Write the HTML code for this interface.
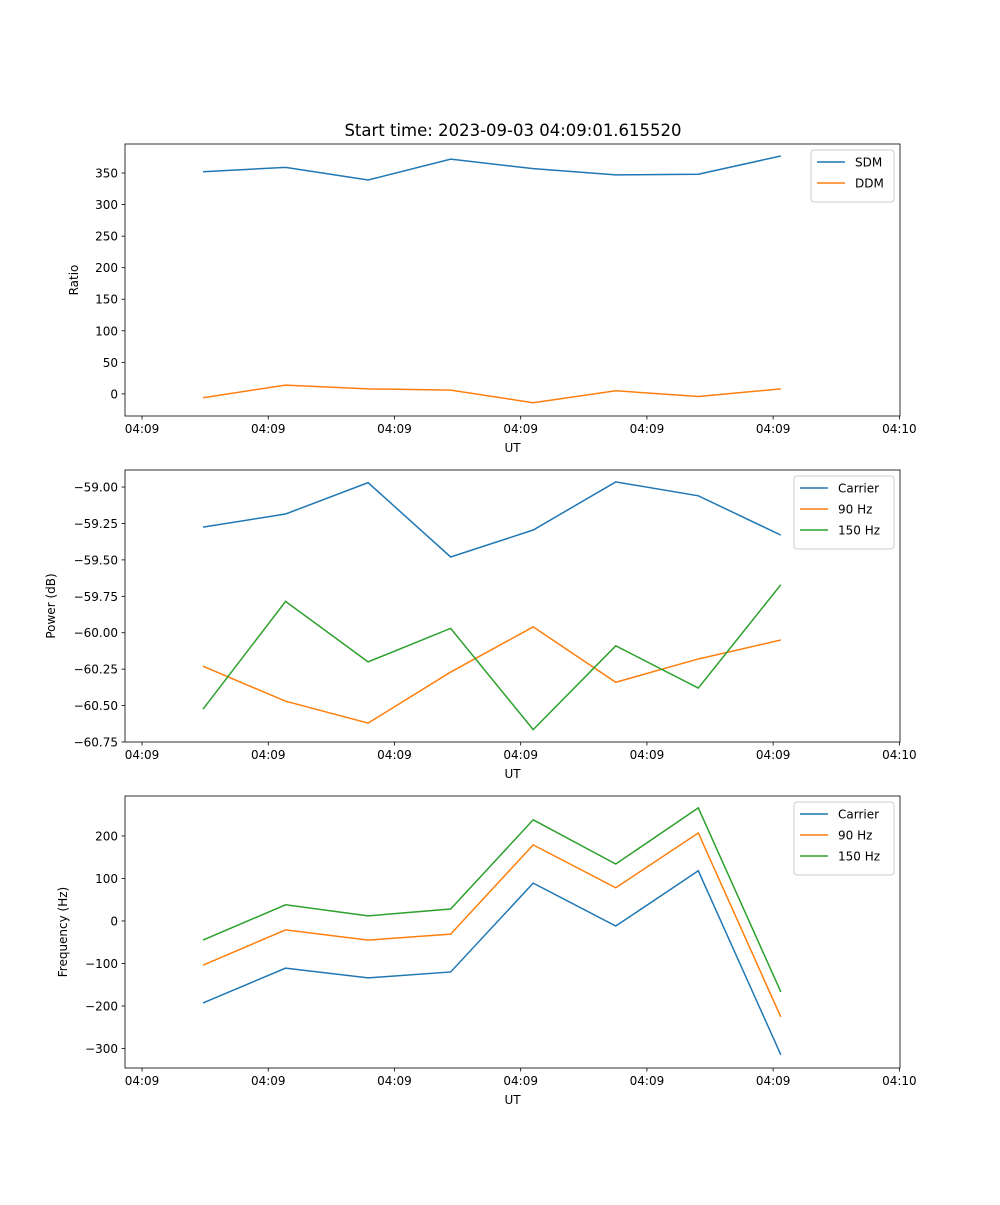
<!DOCTYPE html>
<html><head><meta charset="utf-8"><style>
body{margin:0;background:#fff;font-family:"Liberation Sans","DejaVu Sans",sans-serif}
svg text{font-family:"DejaVu Sans","Liberation Sans",sans-serif}
</style></head><body>
<svg id="fig" width="1000" height="1200" xmlns="http://www.w3.org/2000/svg"></svg>
<script>
const times = [4.83, 11.37, 17.91, 24.45, 30.99, 37.53, 44.07, 50.61];
const xTickVals = [0, 10, 20, 30, 40, 50, 60];
const xTickLabels = ["04:09","04:09","04:09","04:09","04:09","04:09","04:10"];
const sdm = [352, 359, 339, 372, 357, 347, 348, 377];
const ddm = [-6, 14, 8, 6, -14, 5, -4, 8];
const pCarrier = [-59.275, -59.185, -58.97, -59.48, -59.295, -58.965, -59.06, -59.33];
const p90 = [-60.23, -60.47, -60.62, -60.27, -59.96, -60.34, -60.18, -60.05];
const p150 = [-60.525, -59.785, -60.2, -59.97, -60.665, -60.09, -60.38, -59.67];
const fCarrier = [-193, -111, -134, -120, 89, -12, 118, -315];
const f90 = [-104, -21, -45, -31, 179, 78, 207, -226];
const f150 = [-45, 38, 12, 28, 238, 134, 266, -167];
const ticks1 = [0, 50, 100, 150, 200, 250, 300, 350];
const ticks2 = [-60.75, -60.5, -60.25, -60.0, -59.75, -59.5, -59.25, -59.0];
const ticks3 = [-300, -200, -100, 0, 100, 200];

const svg = document.getElementById('fig');
const NS = 'http://www.w3.org/2000/svg';
function mk(tag, attrs, parent){const e=document.createElementNS(NS,tag);for(const k in attrs)e.setAttribute(k,attrs[k]);(parent||svg).appendChild(e);return e;}
const L=125,R=900,X0=-1.35,X1=60.05;
function xs(t){return L+(t-X0)/(X1-X0)*(R-L);}
const C=['#1f77b4','#ff7f0e','#2ca02c'];

function panel(name, top, bottom, y0, y1, yticks, fmt, ylabel, ylOff, series, labels, legendW){
  const g=mk('g',{});
  
  
  const ys=v=>bottom-(v-y0)/(y1-y0)*(bottom-top);
  series.forEach((s,i)=>{
    const pl=mk('polyline',{points:s.map((v,j)=>xs(times[j])+','+ys(v)).join(' '),fill:'none',stroke:C[i],'stroke-width':1.5},g);
    
    
  });
  mk('rect',{x:L,y:top,width:R-L,height:bottom-top,fill:'none',stroke:'#000','stroke-width':0.8},g);
  xTickVals.forEach((t,i)=>{const x=xs(t);mk('line',{x1:x,x2:x,y1:bottom,y2:bottom+3.5,stroke:'#000','stroke-width':0.8},g);
    const tx=mk('text',{x:x,y:bottom+17,'font-size':12,'text-anchor':'middle'},g);tx.textContent=xTickLabels[i];
    
    });
  yticks.forEach(v=>{const y=ys(v);mk('line',{x1:L-3.5,x2:L,y1:y,y2:y,stroke:'#000','stroke-width':0.8},g);
    const tx=mk('text',{x:L-7,y:y+4.5,'font-size':12,'text-anchor':'end'},g);tx.textContent=fmt(v);
    
    });
  const xl=mk('text',{x:(L+R)/2,y:bottom+36,'font-size':12,'text-anchor':'middle'},g);xl.textContent='UT';
  
  
  const cy=(top+bottom)/2;
  const yl=mk('text',{x:0,y:0,'font-size':12,'text-anchor':'middle',transform:'translate('+(L-ylOff)+','+cy+') rotate(-90)'},g);yl.textContent=ylabel;
  
  
  const lg=mk('g',{},g);
  
  
  const lx=R-6-legendW, lh=10+labels.length*21;
  mk('rect',{x:lx,y:top+6,width:legendW,height:lh,rx:3,fill:'#fff','fill-opacity':0.8,stroke:'#ccc'},lg);
  labels.forEach((lab,i)=>{const y=top+18+i*21;
    mk('line',{x1:lx+6,x2:lx+34,y1:y,y2:y,stroke:C[i],'stroke-width':1.5},lg);
    const t=mk('text',{x:lx+44,y:y+4.5,'font-size':12},lg);t.textContent=lab;
    
    });
  return g;
}
const title=mk('text',{x:513,y:136,'font-size':16.5,'text-anchor':'middle'});
title.textContent='Start time: 2023-09-03 04:09:01.615520';


panel('ratio-panel',144,416,-35,396,ticks1,v=>String(v),'Ratio',47,[sdm,ddm],['SDM','DDM'],83);
panel('power-panel',470,742,-60.75,-58.883,ticks2,v=>'\u2212'+Math.abs(v).toFixed(2),'Power (dB)',70,[pCarrier,p90,p150],['Carrier','90 Hz','150 Hz'],100);
panel('frequency-panel',796,1068,-346,294,ticks3,v=>v<0?'\u2212'+Math.abs(v):String(v),'Frequency (Hz)',58,[fCarrier,f90,f150],['Carrier','90 Hz','150 Hz'],100);
</script>
</body></html>
